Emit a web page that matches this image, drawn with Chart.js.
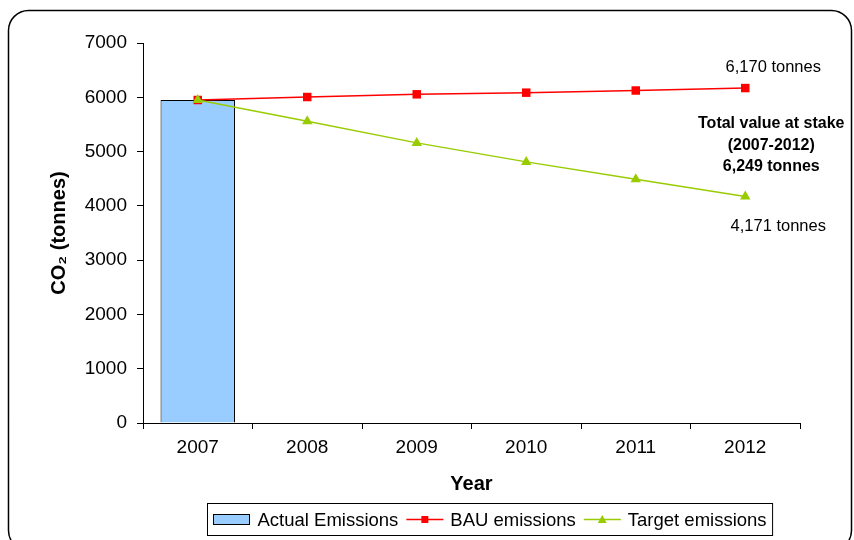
<!DOCTYPE html>
<html>
<head>
<meta charset="utf-8">
<script src="https://cdn.jsdelivr.net/npm/chart.js@4/dist/chart.umd.min.js"></script>
<style>
  html, body { margin: 0; padding: 0; background: #fff; }
  #wrap { width: 854px; height: 540px; position: relative; }
</style>
</head>
<body>
<div id="wrap"><canvas id="c" width="854" height="540"></canvas></div>
<script>
// Years on the horizontal axis
const years = ['2007', '2008', '2009', '2010', '2011', '2012'];
// Measured emissions (only the base year is known)
const actualEmissions = [5950, null, null, null, null, null];
// Business-as-usual projection
const bauEmissions = [5950, 6005, 6055, 6085, 6125, 6170];
// Reduction target path
const targetEmissions = [5950, 5560, 5160, 4810, 4490, 4171];
// Vertical axis ticks
const yTicks = [0, 1000, 2000, 3000, 4000, 5000, 6000, 7000];
// Callout texts
const bauEndLabel = '6,170 tonnes';
const targetEndLabel = '4,171 tonnes';
const stakeLines = ['Total value at stake', '(2007-2012)', '6,249 tonnes'];
const seriesNames = ['Actual Emissions', 'BAU emissions', 'Target emissions'];

const FONT = "'Liberation Sans', Arial, sans-serif";
Chart.defaults.font.family = FONT;
Chart.defaults.color = '#000';

const BAR_FILL = '#99CCFF';
const BAU_COLOR = '#FF0000';
const TARGET_COLOR = '#99CC00';

// Rounded outer frame
const framePlugin = {
  id: 'frame',
  beforeDraw(chart) {
    const ctx = chart.ctx;
    ctx.save();
    ctx.fillStyle = '#fff';
    ctx.fillRect(0, 0, chart.width, chart.height);
    ctx.strokeStyle = '#000';
    ctx.lineWidth = 1.5;
    ctx.beginPath();
    ctx.roundRect(8.5, 10.5, 843, 540, 20);
    ctx.stroke();
    ctx.restore();
  }
};

// Value callouts next to the 2012 points
const calloutPlugin = {
  id: 'callouts',
  afterDatasetsDraw(chart) {
    const ctx = chart.ctx;
    const bau = chart.getDatasetMeta(1).data;
    const tgt = chart.getDatasetMeta(2).data;
    const pb = bau[bau.length - 1];
    const pt = tgt[tgt.length - 1];
    ctx.save();
    ctx.fillStyle = '#000';
    ctx.textAlign = 'center';
    ctx.textBaseline = 'middle';
    ctx.font = '16.5px ' + FONT;
    ctx.fillText(bauEndLabel, pb.x + 28, pb.y - 21);
    ctx.fillText(targetEndLabel, pt.x + 33, pt.y + 30);
    ctx.font = 'bold 16px ' + FONT;
    const cx = pb.x + 26;
    stakeLines.forEach((t, i) => ctx.fillText(t, cx, pb.y + 36 + i * 21.5));
    ctx.restore();
  }
};

// Boxed legend below the axis title
const legendPlugin = {
  id: 'boxLegend',
  afterDraw(chart) {
    const ctx = chart.ctx;
    ctx.save();
    ctx.font = '18.5px ' + FONT;
    const symW = 37, gapIn = 7, gapOut = 8, padX = 6;
    const widths = seriesNames.map(n => ctx.measureText(n).width);
    let total = padX * 2;
    widths.forEach((w, i) => { total += symW + gapIn + w + (i < widths.length - 1 ? gapOut : 0); });
    const boxX = Math.round(490 - total / 2) + 0.5, boxY = 503.5, boxH = 32;
    ctx.strokeStyle = '#000';
    ctx.lineWidth = 1;
    ctx.strokeRect(boxX, boxY, total, boxH);
    const cy = boxY + boxH / 2;
    let x = boxX + padX;
    seriesNames.forEach((name, i) => {
      if (i === 0) {
        ctx.fillStyle = BAR_FILL;
        ctx.fillRect(x, cy - 5, symW - 1, 10);
        ctx.strokeStyle = '#000';
        ctx.strokeRect(x, cy - 5, symW - 1, 10);
      } else {
        const col = i === 1 ? BAU_COLOR : TARGET_COLOR;
        ctx.strokeStyle = col;
        ctx.fillStyle = col;
        ctx.lineWidth = 1.5;
        ctx.beginPath();
        ctx.moveTo(x, cy);
        ctx.lineTo(x + symW, cy);
        ctx.stroke();
        const mx = x + symW / 2;
        if (i === 1) {
          ctx.fillRect(mx - 3.5, cy - 3.5, 7, 7);
        } else {
          ctx.beginPath();
          ctx.moveTo(mx, cy - 4.5);
          ctx.lineTo(mx + 4.5, cy + 3.5);
          ctx.lineTo(mx - 4.5, cy + 3.5);
          ctx.closePath();
          ctx.fill();
        }
        ctx.lineWidth = 1;
      }
      x += symW + gapIn;
      ctx.fillStyle = '#000';
      ctx.textAlign = 'left';
      ctx.textBaseline = 'middle';
      ctx.fillText(name, x, cy + 1);
      x += widths[i] + gapOut;
    });
    ctx.restore();
  }
};

new Chart(document.getElementById('c'), {
  type: 'bar',
  data: {
    labels: years,
    datasets: [
      {
        type: 'bar',
        label: seriesNames[0],
        data: actualEmissions,
        backgroundColor: BAR_FILL,
        borderColor: '#000',
        borderWidth: 1,
        categoryPercentage: 1,
        barPercentage: 0.68,
        order: 2
      },
      {
        type: 'line',
        label: seriesNames[1],
        data: bauEmissions,
        borderColor: BAU_COLOR,
        backgroundColor: BAU_COLOR,
        borderWidth: 1.5,
        pointStyle: 'rect',
        pointRadius: 6,
        pointBorderWidth: 0,
        tension: 0,
        order: 1
      },
      {
        type: 'line',
        label: seriesNames[2],
        data: targetEmissions,
        borderColor: TARGET_COLOR,
        backgroundColor: TARGET_COLOR,
        borderWidth: 1.5,
        pointStyle: 'triangle',
        pointRadius: 6,
        pointBorderWidth: 0,
        tension: 0,
        order: 0
      }
    ]
  },
  options: {
    responsive: false,
    animation: false,
    devicePixelRatio: 1,
    layout: { padding: { left: 0, right: 54, top: 43, bottom: 40 } },
    plugins: { legend: { display: false }, tooltip: { enabled: false } },
    scales: {
      x: {
        offset: true,
        afterFit(s) { s.height = 77; },
        grid: { display: true, drawOnChartArea: false, drawTicks: true, tickLength: 6, offset: true, color: '#000', lineWidth: 1 },
        border: { display: true, color: '#000', width: 1 },
        ticks: { font: { size: 19 }, color: '#000', padding: 7, maxRotation: 0 },
        title: { display: true, text: 'Year', font: { size: 20, weight: 'bold' }, color: '#000', padding: { top: 0, bottom: 4 } }
      },
      y: {
        min: 0,
        max: 7000,
        afterFit(s) { s.width = 143; },
        afterBuildTicks(s) { s.ticks = yTicks.map(v => ({ value: v })); },
        grid: { display: true, drawOnChartArea: false, drawTicks: true, tickLength: 6, color: '#000', lineWidth: 1 },
        border: { display: true, color: '#000', width: 1 },
        ticks: { font: { size: 19 }, color: '#000', padding: 10, callback: v => String(v) },
        title: { display: true, text: 'CO₂ (tonnes)', font: { size: 20, weight: 'bold' }, color: '#000', padding: { top: 47, bottom: 0 } }
      }
    }
  },
  plugins: [framePlugin, calloutPlugin, legendPlugin]
});
</script>
</body>
</html>
